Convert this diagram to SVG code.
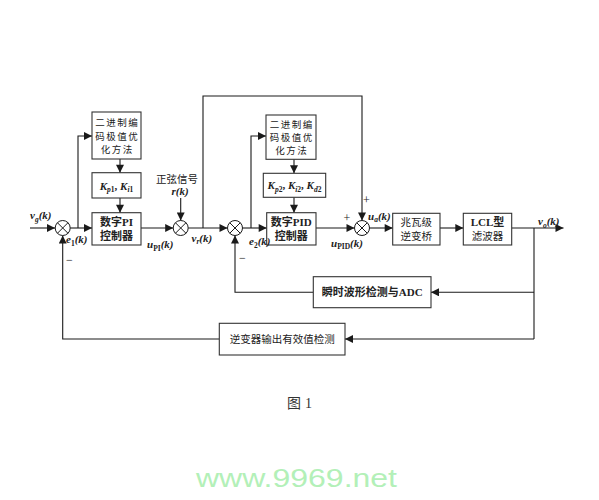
<svg xmlns="http://www.w3.org/2000/svg" width="599" height="500" viewBox="0 0 599 500">
<defs>
<marker id="ar" viewBox="0 0 10 10" refX="10" refY="5" markerWidth="9" markerHeight="8" markerUnits="userSpaceOnUse" orient="auto">
<path d="M0,0 L10,5 L0,10 z" fill="#1a1a1a"/>
</marker>
<g id="sum">
<circle cx="0" cy="0" r="7.5" fill="#fff" stroke="#1a1a1a" stroke-width="1"/>
<path d="M-5.3,-5.3 L5.3,5.3 M-5.3,5.3 L5.3,-5.3" stroke="#1a1a1a" stroke-width="1"/>
</g>
</defs>
<style>
.box{fill:#fff;stroke:#333;stroke-width:1.1}
.ln{fill:none;stroke:#1a1a1a;stroke-width:1.1}
.cn{font-family:"Noto Sans CJK SC","Liberation Serif",sans-serif;font-size:10.5px;fill:#222;text-anchor:middle}
.cs{font-family:"Noto Sans CJK SC","Liberation Serif",sans-serif;font-size:9.5px;letter-spacing:1.5px;fill:#222;text-anchor:middle}
.bt{font-family:"Liberation Serif","Noto Sans CJK SC",serif;font-weight:bold;font-size:11px;fill:#222;text-anchor:middle}
.lb{font-family:"Liberation Serif",serif;font-style:italic;font-weight:bold;font-size:11px;fill:#222}
.sb{font-size:7.5px}
.pm{font-family:"Liberation Serif",serif;font-size:12px;fill:#222}
</style>
<rect width="599" height="500" fill="#fff"/>

<g id="connectors">
<path class="ln" d="M30,228 H55" marker-end="url(#ar)"/>
<path class="ln" d="M70.2,228 H92" marker-end="url(#ar)"/>
<path class="ln" d="M78,228 V136 H92" marker-end="url(#ar)"/>
<path class="ln" d="M120,159 V172.7" marker-end="url(#ar)"/>
<path class="ln" d="M120,198 V212.7" marker-end="url(#ar)"/>
<path class="ln" d="M141,228 H173.2" marker-end="url(#ar)"/>
<path class="ln" d="M180.7,198 V220.5" marker-end="url(#ar)"/>
<path class="ln" d="M188.2,228 H227.5" marker-end="url(#ar)"/>
<path class="ln" d="M203,228 V96 H362 V220.5" marker-end="url(#ar)"/>
<path class="ln" d="M242.5,228 H266.7" marker-end="url(#ar)"/>
<path class="ln" d="M251,228 V136 H266" marker-end="url(#ar)"/>
<path class="ln" d="M294,159.3 V173.3" marker-end="url(#ar)"/>
<path class="ln" d="M294,197.3 V212.7" marker-end="url(#ar)"/>
<path class="ln" d="M316,228 H354.5" marker-end="url(#ar)"/>
<path class="ln" d="M369.5,228 H392.7" marker-end="url(#ar)"/>
<path class="ln" d="M440,228 H463.3" marker-end="url(#ar)"/>
<path class="ln" d="M511.7,228 H563.5" marker-end="url(#ar)"/>
<path class="ln" d="M534,228 V339"/>
<path class="ln" d="M534,292.3 H431" marker-end="url(#ar)"/>
<path class="ln" d="M534,339 H345" marker-end="url(#ar)"/>
<path class="ln" d="M313.3,292.3 H235 V235.5" marker-end="url(#ar)"/>
<path class="ln" d="M219.3,339 H62.7 V235.5" marker-end="url(#ar)"/>
</g>

<g id="sum1"><use href="#sum" x="62.7" y="228"/></g>
<g id="sum2"><use href="#sum" x="180.7" y="228"/></g>
<g id="sum3"><use href="#sum" x="235" y="228"/></g>
<g id="sum4"><use href="#sum" x="362" y="228"/></g>

<g id="opt1">
<rect class="box" x="92" y="112" width="49" height="47"/>
<text class="cs" x="117.2" y="126">二进制编</text>
<text class="cs" x="117.2" y="139.5">码极值优</text>
<text class="cs" x="117.2" y="153">化方法</text>
</g>
<g id="k1">
<rect class="box" x="92" y="172.7" width="49" height="25.3"/>
<text class="lb" x="116.5" y="189.5" text-anchor="middle">K<tspan class="sb" dy="2.5">p</tspan><tspan class="sb" font-style="normal">1</tspan><tspan dy="-2.5" font-style="normal">, </tspan>K<tspan class="sb" dy="2.5">i</tspan><tspan class="sb" font-style="normal">1</tspan></text>
</g>
<g id="pi">
<rect class="box" x="92" y="212.7" width="49" height="32.3"/>
<text class="bt" x="116.5" y="225.5">数字PI</text>
<text class="bt" x="116.5" y="240">控制器</text>
</g>

<g id="opt2">
<rect class="box" x="266" y="115" width="50" height="44.3"/>
<text class="cs" x="291.7" y="128">二进制编</text>
<text class="cs" x="291.7" y="141">码极值优</text>
<text class="cs" x="291.7" y="154">化方法</text>
</g>
<g id="k2">
<rect class="box" x="263.3" y="173.3" width="62.4" height="24"/>
<text class="lb" x="294.5" y="189" text-anchor="middle">K<tspan class="sb" dy="2.5">p</tspan><tspan class="sb" font-style="normal">2</tspan><tspan dy="-2.5" font-style="normal">, </tspan>K<tspan class="sb" dy="2.5">i</tspan><tspan class="sb" font-style="normal">2</tspan><tspan dy="-2.5" font-style="normal">, </tspan>K<tspan class="sb" dy="2.5">d</tspan><tspan class="sb" font-style="normal">2</tspan></text>
</g>
<g id="pid">
<rect class="box" x="266.7" y="212.7" width="49.3" height="32.3"/>
<text class="bt" x="291.3" y="225.5">数字PID</text>
<text class="bt" x="291.3" y="240">控制器</text>
</g>

<g id="inverter">
<rect class="box" x="392.7" y="213.3" width="47.3" height="31.7"/>
<text class="cn" x="416.3" y="226">兆瓦级</text>
<text class="cn" x="416.3" y="240">逆变桥</text>
</g>
<g id="lcl">
<rect class="box" x="463.3" y="213.3" width="48.4" height="31.7"/>
<text class="bt" x="487.5" y="226">LCL型</text>
<text class="cn" x="487.5" y="240">滤波器</text>
</g>

<g id="adc">
<rect class="box" x="313.3" y="276.7" width="117.7" height="31"/>
<text class="bt" x="372.2" y="296">瞬时波形检测与ADC</text>
</g>
<g id="rms">
<rect class="box" x="219.3" y="323.3" width="125.7" height="31.7"/>
<text class="cn" x="282.2" y="343">逆变器输出有效值检测</text>
</g>

<g id="labels">
<text class="lb" x="30" y="219">v<tspan class="sb" dy="2.5">g</tspan><tspan dy="-2.5">(k)</tspan></text>
<text class="lb" x="66" y="243">e<tspan class="sb" dy="2.5" font-style="normal">1</tspan><tspan dy="-2.5">(k)</tspan></text>
<text class="lb" x="147" y="248">u<tspan class="sb" dy="2.5" font-style="normal">PI</tspan><tspan dy="-2.5">(k)</tspan></text>
<text class="lb" x="191.5" y="241.5">v<tspan class="sb" dy="2.5">r</tspan><tspan dy="-2.5">(k)</tspan></text>
<text class="lb" x="249" y="245">e<tspan class="sb" dy="2.5" font-style="normal">2</tspan><tspan dy="-2.5">(k)</tspan></text>
<text class="lb" x="331" y="246.5">u<tspan class="sb" dy="2.5" font-style="normal">PID</tspan><tspan dy="-2.5">(k)</tspan></text>
<text class="lb" x="368" y="219.5">u<tspan class="sb" dy="2.5">a</tspan><tspan dy="-2.5">(k)</tspan></text>
<text class="lb" x="538" y="225">v<tspan class="sb" dy="2.5">o</tspan><tspan dy="-2.5">(k)</tspan></text>
<text class="cn" x="177" y="182.5">正弦信号</text>
<text class="lb" x="180" y="195" text-anchor="middle">r(k)</text>
<text class="pm" x="343.5" y="222">+</text>
<text class="pm" x="363" y="204">+</text>
<text class="pm" x="66" y="264">−</text>
<text class="pm" x="239" y="262">−</text>
</g>

<text x="287" y="408" font-family="Noto Sans CJK SC, serif" font-size="14" fill="#333">图<tspan font-family="Liberation Serif, serif" dx="4">1</tspan></text>
<text x="196" y="487" font-family="Liberation Sans, sans-serif" font-size="26" fill="#b3f0b8" textLength="201" lengthAdjust="spacingAndGlyphs">www.9969.net</text>
</svg>
